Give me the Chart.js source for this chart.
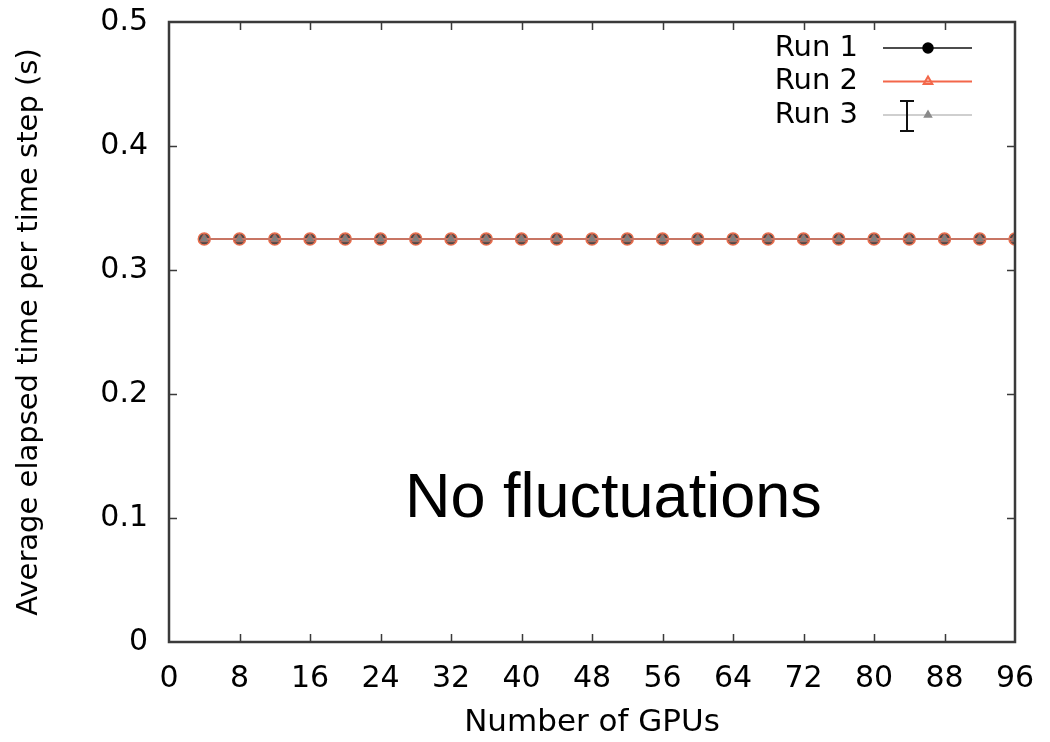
<!DOCTYPE html>
<html lang="en">
<head>
    <meta charset="UTF-8">
    <title>Average elapsed time per time step</title>
    <script src="https://cdn.jsdelivr.net/npm/chart.js"></script>
    <style>
        body {
            margin: 0;
            background-color: #fff;
        }
        .wrap {
            position: relative;
            width: 1050px;
            height: 742px;
        }
        .note {
            position: absolute;
            left: 405px;
            top: 464px;
            font-family: "Liberation Sans", Arial, sans-serif;
            font-size: 63px;
            line-height: 63px;
            color: #000;
            white-space: nowrap;
        }
    </style>
</head>
<body>

    <div class="wrap">
        <canvas id="elapsedChart" width="1050" height="742"></canvas>
        <div class="note">No fluctuations</div>
    </div>

    <script>
        // Data
        const gpus = [4, 8, 12, 16, 20, 24, 28, 32, 36, 40, 44, 48, 52, 56, 60, 64, 68, 72, 76, 80, 84, 88, 92, 96];
        const run1 = [0.325, 0.325, 0.325, 0.325, 0.325, 0.325, 0.325, 0.325, 0.325, 0.325, 0.325, 0.325,
                      0.325, 0.325, 0.325, 0.325, 0.325, 0.325, 0.325, 0.325, 0.325, 0.325, 0.325, 0.325];
        const run2 = [0.325, 0.325, 0.325, 0.325, 0.325, 0.325, 0.325, 0.325, 0.325, 0.325, 0.325, 0.325,
                      0.325, 0.325, 0.325, 0.325, 0.325, 0.325, 0.325, 0.325, 0.325, 0.325, 0.325, 0.325];
        const run3 = [0.325, 0.325, 0.325, 0.325, 0.325, 0.325, 0.325, 0.325, 0.325, 0.325, 0.325, 0.325,
                      0.325, 0.325, 0.325, 0.325, 0.325, 0.325, 0.325, 0.325, 0.325, 0.325, 0.325, 0.325];
        const xTicks = [0, 8, 16, 24, 32, 40, 48, 56, 64, 72, 80, 88, 96];
        const yTicks = [0, 0.1, 0.2, 0.3, 0.4, 0.5];
        const yTickLabels = ['0', '0.1', '0.2', '0.3', '0.4', '0.5'];

        const tickFont = { family: 'DejaVu Sans', size: 30 };
        const axisColor = '#3a3a3a';

        function toPoints(values) {
            return gpus.map((g, i) => ({ x: g, y: values[i] }));
        }

        // box frame, inward ticks on all four sides and the gnuplot-style key
        const frameAndKey = {
            id: 'frameAndKey',
            afterDatasetsDraw(chart) {
                const { ctx, chartArea: a, scales: { x, y } } = chart;
                const tick = 8;
                ctx.save();
                ctx.strokeStyle = axisColor;
                ctx.lineWidth = 1.5;
                ctx.beginPath();
                xTicks.forEach(v => {
                    if (v === xTicks[0] || v === xTicks[xTicks.length - 1]) return;
                    const px = Math.round(x.getPixelForValue(v)) + 0.5;
                    ctx.moveTo(px, a.bottom); ctx.lineTo(px, a.bottom - tick);
                    ctx.moveTo(px, a.top); ctx.lineTo(px, a.top + tick);
                });
                yTicks.forEach(v => {
                    if (v === yTicks[0] || v === yTicks[yTicks.length - 1]) return;
                    const py = Math.round(y.getPixelForValue(v)) + 0.5;
                    ctx.moveTo(a.left, py); ctx.lineTo(a.left + tick, py);
                    ctx.moveTo(a.right, py); ctx.lineTo(a.right - tick, py);
                });
                ctx.stroke();
                ctx.lineWidth = 2.5;
                ctx.strokeRect(a.left, a.top, a.right - a.left, a.bottom - a.top);

                // key
                ctx.font = '29px "DejaVu Sans"';
                ctx.textAlign = 'right';
                ctx.textBaseline = 'middle';
                const textX = a.right - 157;
                const lineX0 = a.right - 132;
                const lineX1 = a.right - 43;
                const markX = a.right - 87;
                chart.data.datasets.forEach((ds, i) => {
                    const ky = a.top + 26 + i * 33.5;
                    ctx.fillStyle = '#000';
                    ctx.fillText(ds.label, textX, ky);
                    ctx.strokeStyle = ds.borderColor;
                    ctx.lineWidth = ds.borderWidth;
                    ctx.beginPath();
                    ctx.moveTo(lineX0, ky);
                    ctx.lineTo(lineX1, ky);
                    ctx.stroke();
                    if (ds.keyErrorBar) {
                        const ex = lineX0 + 24;
                        ctx.strokeStyle = '#111';
                        ctx.lineWidth = 2;
                        ctx.beginPath();
                        ctx.moveTo(ex, ky - 14); ctx.lineTo(ex, ky + 16);
                        ctx.moveTo(ex - 7, ky - 14); ctx.lineTo(ex + 7, ky - 14);
                        ctx.moveTo(ex - 7, ky + 16); ctx.lineTo(ex + 7, ky + 16);
                        ctx.stroke();
                    }
                    ctx.fillStyle = ds.keyFill;
                    ctx.strokeStyle = ds.keyStroke;
                    Chart.helpers.drawPoint(ctx, {
                        pointStyle: ds.pointStyle,
                        radius: ds.keyRadius,
                        rotation: 0,
                        borderWidth: ds.pointBorderWidth
                    }, markX, ky);
                });
                ctx.restore();
            }
        };

        function noPadding(s) {
            s.paddingTop = 0;
            s.paddingBottom = 0;
            s.paddingLeft = 0;
            s.paddingRight = 0;
        }

        const ctx = document.getElementById('elapsedChart').getContext('2d');

        const elapsedChart = new Chart(ctx, {
            type: 'line',
            data: {
                datasets: [{
                    label: 'Run 1',
                    data: toPoints(run1),
                    borderColor: '#111',
                    borderWidth: 1.5,
                    pointStyle: 'circle',
                    pointRadius: 6,
                    keyRadius: 5,
                    keyFill: '#000',
                    keyStroke: '#000',
                    pointBackgroundColor: '#4a4a4a',
                    pointBorderColor: '#e8704f',
                    pointBorderWidth: 1.5,
                    order: 3
                }, {
                    label: 'Run 2',
                    data: toPoints(run2),
                    borderColor: '#f3674a',
                    borderWidth: 2,
                    pointStyle: 'triangle',
                    pointRadius: 5,
                    keyRadius: 5,
                    keyFill: 'rgba(243,103,74,0.25)',
                    keyStroke: '#f3674a',
                    pointBackgroundColor: 'rgba(0,0,0,0)',
                    pointBorderColor: 'rgba(243,103,74,0.7)',
                    pointBorderWidth: 1.5,
                    order: 2
                }, {
                    label: 'Run 3',
                    data: toPoints(run3),
                    borderColor: 'rgba(140,140,140,0.55)',
                    borderWidth: 1.5,
                    pointStyle: 'triangle',
                    pointRadius: 4,
                    keyRadius: 3.5,
                    keyFill: '#8a8a8a',
                    keyStroke: '#8a8a8a',
                    pointBackgroundColor: '#808080',
                    pointBorderColor: '#808080',
                    pointBorderWidth: 1,
                    keyErrorBar: true,
                    order: 1
                }]
            },
            options: {
                responsive: false,
                animation: false,
                devicePixelRatio: 1,
                layout: {
                    padding: { top: 22, right: 35, left: 0, bottom: 0 }
                },
                plugins: {
                    legend: { display: false },
                    tooltip: { enabled: false }
                },
                scales: {
                    x: {
                        type: 'linear',
                        min: 0,
                        max: 96,
                        afterBuildTicks: s => { s.ticks = xTicks.map(v => ({ value: v })); },
                        afterFit: s => { s.height = 100; noPadding(s); },
                        grid: { display: false, drawTicks: false },
                        border: { display: false },
                        ticks: {
                            font: tickFont,
                            color: '#000',
                            padding: 19,
                            maxRotation: 0,
                            autoSkip: false
                        },
                        title: {
                            display: true,
                            text: 'Number of GPUs',
                            font: { family: 'DejaVu Sans', size: 31 },
                            color: '#000',
                            padding: { top: 0, bottom: 0 }
                        }
                    },
                    y: {
                        min: 0,
                        max: 0.5,
                        afterBuildTicks: s => { s.ticks = yTicks.map(v => ({ value: v })); },
                        afterFit: s => { s.width = 169; noPadding(s); },
                        grid: { display: false, drawTicks: false },
                        border: { display: false },
                        ticks: {
                            font: tickFont,
                            color: '#000',
                            padding: 21,
                            callback: (v, i) => yTickLabels[i]
                        },
                        title: {
                            display: true,
                            text: 'Average elapsed time per time step (s)',
                            font: { family: 'DejaVu Sans', size: 29 },
                            color: '#000',
                            padding: { top: 12, bottom: 0 }
                        }
                    }
                }
            },
            plugins: [frameAndKey]
        });
    </script>
</body>
</html>
